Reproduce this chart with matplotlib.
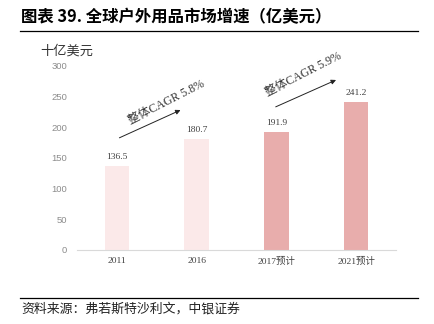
import numpy as np
import matplotlib.pyplot as plt

# data
categories = ["2011", "2016", "2017预计", "2021预计"]
values = [136.5, 180.7, 191.9, 241.2]
bar_colors = ["#FBE9E9", "#FBE9E9", "#E8ADAC", "#E8ADAC"]
cagr_labels = ["整体CAGR 5.8%", "整体CAGR 5.9%"]

serif = ["Liberation Serif", "Noto Sans CJK SC"]
cjk = ["Noto Sans CJK SC", "DejaVu Sans"]

fig = plt.figure(figsize=(4.34, 3.24), dpi=100)
ax = fig.add_axes([0.1774, 0.2284, 0.735, 0.568])

x = np.arange(len(categories))
ax.bar(x, values, width=0.31, color=bar_colors)

for xi, v in zip(x, values):
    ax.text(xi, v + 9, f"{v:.1f}", ha="center", va="bottom",
            fontsize=6.8, color="#404040", family=serif)

ax.set_xlim(-0.5, 3.5)
ax.set_ylim(0, 300)
ax.set_yticks(np.arange(0, 301, 50))
ax.set_xticks(x)
ax.set_xticklabels(categories, family=serif, fontsize=6.8, color="#404040")
for lab in ax.get_yticklabels():
    lab.set_family("Liberation Sans")
    lab.set_fontsize(6.8)
    lab.set_color("#8C8C8C")

for s in ["top", "right", "left"]:
    ax.spines[s].set_visible(False)
ax.spines["bottom"].set_color("#D9D9D9")
ax.tick_params(axis="both", length=0)
ax.tick_params(axis="y", pad=7)
ax.tick_params(axis="x", pad=5)

# arrows with CAGR text
ax.annotate("", xy=(0.83, 230), xytext=(0.0, 181),
            arrowprops=dict(arrowstyle="-|>", color="#222222", lw=0.7, mutation_scale=7))
ax.annotate("", xy=(2.78, 279), xytext=(1.96, 231.5),
            arrowprops=dict(arrowstyle="-|>", color="#222222", lw=0.7, mutation_scale=7))
ax.text(0.62, 241, cagr_labels[0], rotation=27, ha="center", va="center",
        fontsize=8.5, family=serif, color="#333333", rotation_mode="anchor")
ax.text(2.34, 287, cagr_labels[1], rotation=27, ha="center", va="center",
        fontsize=8.5, family=serif, color="#333333", rotation_mode="anchor")

# title, unit and source
fig.text(0.048, 0.948, "图表 39. 全球户外用品市场增速（亿美元）", fontsize=11.8,
         fontweight="bold", family=cjk, va="center", ha="left")
fig.add_artist(plt.Line2D([0.046, 0.963], [0.904, 0.904], color="black", lw=0.9))
fig.text(0.092, 0.843, "十亿美元", fontsize=9.5, family=cjk, va="center",
         ha="left", color="#333333")
fig.add_artist(plt.Line2D([0.046, 0.963], [0.080, 0.080], color="black", lw=0.9))
fig.text(0.05, 0.046, "资料来源：弗若斯特沙利文，中银证券", fontsize=9.3, family=cjk,
         va="center", ha="left", style="italic", color="#222222")

plt.savefig("out.png", dpi=100)
